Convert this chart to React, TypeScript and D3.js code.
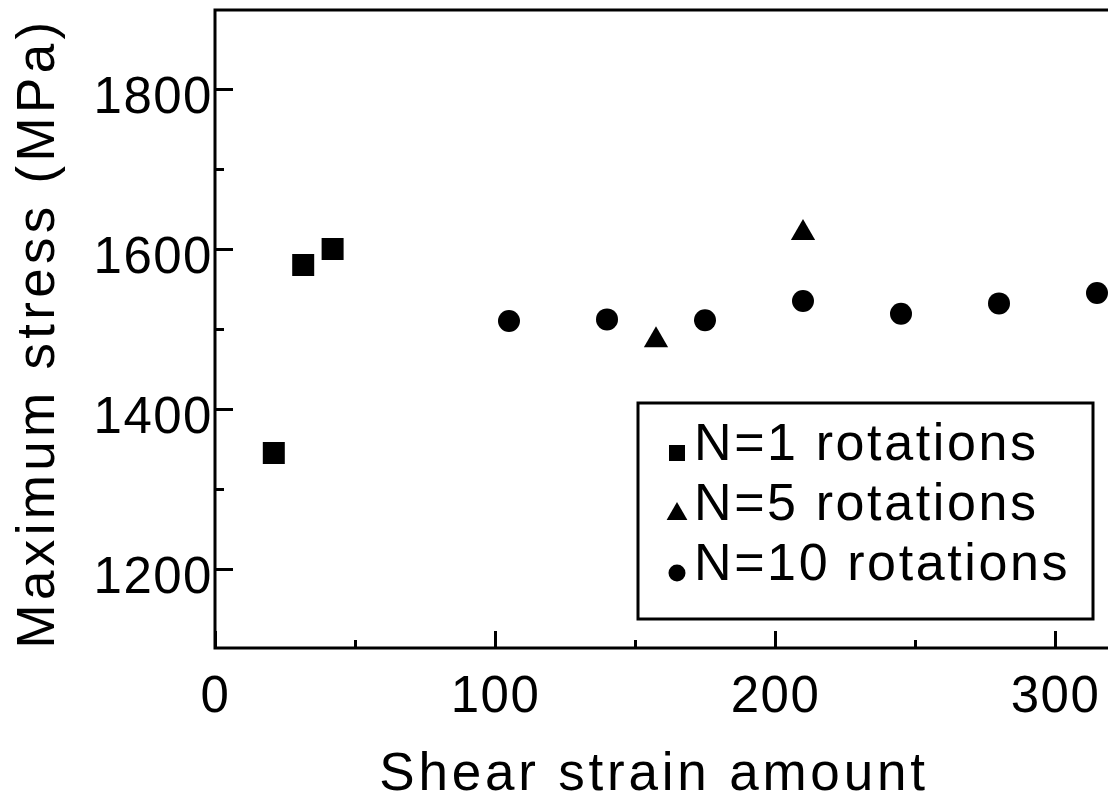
import {useEffect, useRef} from 'react';
import * as d3 from 'd3';

// shear strain amount vs maximum stress
const N1_STRAIN = [21, 31.5, 42];
const N1_STRESS = [1345, 1580, 1600];
const N5_STRAIN = [157.5, 210];
const N5_STRESS = [1486, 1620];
const N10_STRAIN = [105, 140, 175, 210, 245, 280, 315];
const N10_STRESS = [1510, 1512, 1511, 1535, 1519, 1532, 1545];

const X_MAJOR = [0, 100, 200, 300];
const X_MINOR = [50, 150, 250];
const Y_MAJOR = [1200, 1400, 1600, 1800];
const Y_MINOR = [1300, 1500, 1700];

const LEGEND_LABELS = ['N=1 rotations', 'N=5 rotations', 'N=10 rotations'];

const FONT = "'Liberation Sans', Arial, sans-serif";

export default function App() {
    const xAxis = useRef(null);
    const xMinor = useRef(null);
    const yAxis = useRef(null);
    const yMinor = useRef(null);

    const W = 1108;
    const H = 802;
    const left = 215;
    const top = 9;
    const bottom = 649;

    const xScale = d3.scaleLinear().domain([0, 350]).range([left, left + 980]);
    const yScale = d3.scaleLinear().domain([1100, 1900]).range([bottom, top]);

    const square = d3.symbol().type(d3.symbolSquare);
    const triangle = d3.symbol().type(d3.symbolTriangle);
    const circle = d3.symbol().type(d3.symbolCircle);

    const series = [
        {xs: N1_STRAIN, ys: N1_STRESS, path: square.size(484)(), legend: square.size(256)(), dy: 0},
        {xs: N5_STRAIN, ys: N5_STRESS, path: triangle.size(255)(), legend: triangle.size(187)(), dy: 1},
        {xs: N10_STRAIN, ys: N10_STRESS, path: circle.size(380)(), legend: circle.size(227)(), dy: 0}
    ];

    useEffect(() => {
        const fmt = d3.format('d');
        d3.select(xAxis.current)
            .call(d3.axisBottom(xScale).tickValues(X_MAJOR).tickFormat(fmt)
                .tickSizeInner(-18).tickSizeOuter(0).tickPadding(27));
        d3.select(xMinor.current)
            .call(d3.axisBottom(xScale).tickValues(X_MINOR).tickSizeInner(-9).tickSizeOuter(0).tickFormat(() => ''));
        d3.select(yAxis.current)
            .call(d3.axisLeft(yScale).tickValues(Y_MAJOR).tickFormat(fmt)
                .tickSizeInner(-18).tickSizeOuter(0).tickPadding(2));
        d3.select(yMinor.current)
            .call(d3.axisLeft(yScale).tickValues(Y_MINOR).tickSizeInner(-9).tickSizeOuter(0).tickFormat(() => ''));

        d3.selectAll('.axis path.domain').attr('stroke', 'none');
        d3.selectAll('.axis line').attr('stroke', '#000').attr('stroke-width', 3);
        d3.selectAll('.axis text')
            .attr('fill', '#000')
            .attr('font-family', FONT)
            .attr('font-size', 51)
            .attr('letter-spacing', 1.5);
        d3.select(yAxis.current).selectAll('text').attr('dy', '0.47em');
    }, []);

    return (
        <svg width={W} height={H} style={{position: 'absolute', left: 0, top: 0, background: '#fff'}}>
            <rect x={0} y={0} width={W} height={H} fill="#fff" />

            <g className="axis" ref={xAxis} transform={`translate(0, ${bottom})`} />
            <g className="axis" ref={xMinor} transform={`translate(0, ${bottom})`} />
            <g className="axis" ref={yAxis} transform={`translate(${left}, 0)`} />
            <g className="axis" ref={yMinor} transform={`translate(${left}, 0)`} />

            {/* frame, cropped on the right */}
            <rect x={left} y={top + 1} width={W} height={bottom - top - 2} fill="none" stroke="#000" strokeWidth={3} />

            {/* points */}
            {series.map((s, i) => (
                <g key={i}>
                    {s.xs.map((x, j) => (
                        <path key={j} d={s.path} fill="#000"
                            transform={`translate(${xScale(x)}, ${yScale(s.ys[j])})`} />
                    ))}
                </g>
            ))}

            {/* legend */}
            <rect x={638} y={403} width={455} height={216} fill="#fff" stroke="#000" strokeWidth={3} />
            {LEGEND_LABELS.map((label, i) => (
                <g key={label} transform={`translate(0, ${i * 60})`}>
                    <path d={series[i].legend} fill="#000" transform={`translate(677, ${453 + series[i].dy})`} />
                    <text x={694} y={460} fontFamily={FONT} fontSize={52} letterSpacing={2.6} fill="#000">{label}</text>
                </g>
            ))}

            {/* axis titles */}
            <text x={654} y={790} textAnchor="middle" fontFamily={FONT} fontSize={53} letterSpacing={3.8} fill="#000">
                Shear strain amount
            </text>
            <text transform="translate(54, 333) rotate(-90)" textAnchor="middle" fontFamily={FONT} fontSize={53}
                letterSpacing={4.3} fill="#000">
                Maximum stress (MPa)
            </text>
        </svg>
    );
}
